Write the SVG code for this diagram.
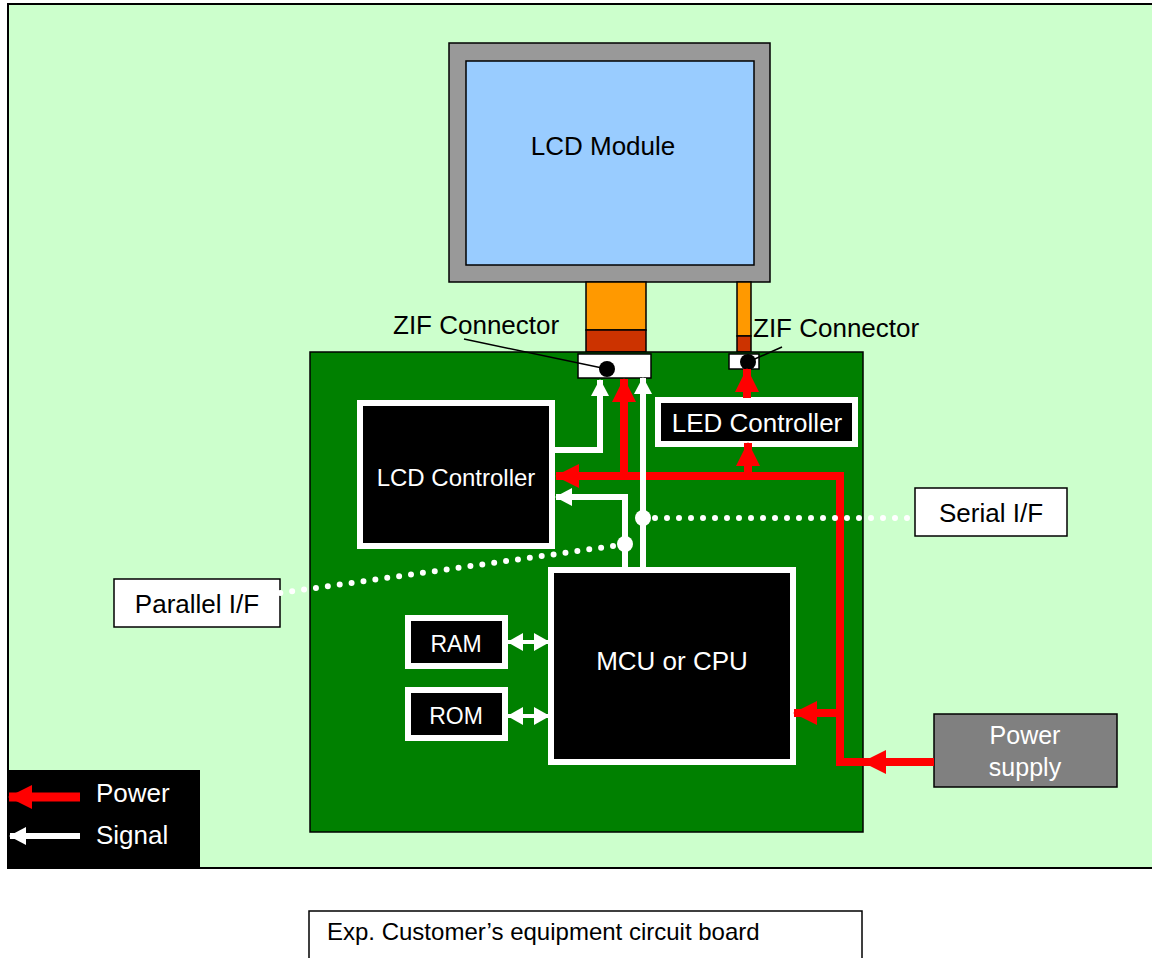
<svg xmlns="http://www.w3.org/2000/svg" width="1152" height="958" viewBox="0 0 1152 958">
<defs>
<style>
text{font-family:"Liberation Sans",Arial,sans-serif;}
.w{fill:#fff}
.k{fill:#000}
.blk{fill:#000;stroke:#fff;stroke-width:6}
.red{stroke:#f00;stroke-width:8;fill:none}
.sig{stroke:#fff;stroke-width:6;fill:none}
.dot{stroke:#fff;stroke-width:6;stroke-linecap:round;stroke-dasharray:0 12;fill:none}
.lbl{fill:#fff;stroke:#000;stroke-width:1.5}
</style>
<marker id="ra" markerUnits="userSpaceOnUse" markerWidth="24" markerHeight="24" refX="23" refY="12" orient="auto" viewBox="0 0 24 24"><path d="M0,0L24,12L0,24Z" fill="#f00"/></marker>
<marker id="wa" markerUnits="userSpaceOnUse" markerWidth="17" markerHeight="18" refX="16" refY="9" orient="auto" viewBox="0 0 17 18"><path d="M0,0L17,9L0,18Z" fill="#fff"/></marker>
<marker id="da" markerUnits="userSpaceOnUse" markerWidth="16" markerHeight="18" refX="15" refY="9" orient="auto-start-reverse" viewBox="0 0 16 18"><path d="M0,0L16,9L0,18Z" fill="#fff"/></marker>
</defs>
<rect x="0" y="0" width="1152" height="958" fill="#fff"/>
<rect id="outer-board" x="8" y="4" width="1150" height="864" fill="#CCFFCC" stroke="#000" stroke-width="2"/>

<g id="lcd-module">
<rect x="449" y="43" width="321" height="239" fill="#999" stroke="#000" stroke-width="1.5"/>
<rect x="466" y="61" width="288" height="204" fill="#99CCFF" stroke="#000" stroke-width="1.5"/>
<text x="603" y="155" font-size="26" text-anchor="middle" class="k">LCD Module</text>
</g>
<g id="flex-cables" stroke="#000" stroke-width="1.5">
<rect x="586" y="282" width="60" height="48" fill="#FF9900"/>
<rect x="586" y="330" width="60" height="22" fill="#CC3300"/>
<rect x="737" y="282" width="14" height="54" fill="#FF9900"/>
<rect x="737" y="336" width="14" height="16" fill="#CC3300"/>
</g>

<rect id="pcb" x="310" y="352" width="553" height="480" fill="#008000" stroke="#000" stroke-width="1.5"/>

<g id="zif-left">
<rect x="578" y="354" width="73" height="24" fill="#fff" stroke="#000" stroke-width="1.5"/>
<circle cx="607" cy="369" r="8" fill="#000"/>
</g>
<g id="zif-right">
<rect x="729" y="354" width="30" height="15" fill="#fff" stroke="#000" stroke-width="1.5"/>
<circle cx="748" cy="362" r="8" fill="#000"/>
</g>
<g id="zif-labels">
<text x="393" y="334" font-size="26" class="k">ZIF Connector</text>
<text x="753" y="337" font-size="26" class="k">ZIF Connector</text>
<line x1="464" y1="339" x2="607" y2="369" stroke="#000" stroke-width="1.5"/>
<line x1="748" y1="362" x2="782" y2="347" stroke="#000" stroke-width="1.5"/>
</g>

<g id="led-controller">
<rect x="658" y="400" width="197" height="44" class="blk"/>
<text x="757" y="432" font-size="26" text-anchor="middle" class="w">LED Controller</text>
</g>
<g id="lcd-controller">
<rect x="360" y="403" width="192" height="143" class="blk"/>
<text x="456" y="486" font-size="24" text-anchor="middle" class="w">LCD Controller</text>
</g>
<g id="mcu">
<rect x="551" y="570" width="242" height="192" class="blk"/>
<text x="672" y="670" font-size="26" text-anchor="middle" class="w">MCU or CPU</text>
</g>
<g id="ram">
<rect x="408" y="618" width="97" height="48" class="blk"/>
<text x="456" y="652" font-size="23" text-anchor="middle" class="w">RAM</text>
</g>
<g id="rom">
<rect x="408" y="690" width="97" height="48" class="blk"/>
<text x="456" y="724" font-size="23" text-anchor="middle" class="w">ROM</text>
</g>
<g id="power-supply">
<rect x="934" y="714" width="183" height="73" fill="#808080" stroke="#000" stroke-width="1.5"/>
<text x="1025" y="744" font-size="25" text-anchor="middle" class="w">Power</text>
<text x="1025" y="776" font-size="25" text-anchor="middle" class="w">supply</text>
</g>
<g id="serial-if">
<rect x="915" y="488" width="152" height="48" class="lbl"/>
<text x="991" y="522" font-size="26" text-anchor="middle" class="k">Serial I/F</text>
</g>
<g id="parallel-if">
<rect x="114" y="579" width="166" height="48" class="lbl"/>
<text x="197" y="613" font-size="26" text-anchor="middle" class="k">Parallel I/F</text>
</g>

<g id="connectors">
<!-- power -->
<line x1="934" y1="762" x2="863" y2="762" class="red" marker-end="url(#ra)"/>
<polyline points="866,762 840,762 840,476 556,476" class="red" stroke-linejoin="miter" marker-end="url(#ra)"/>
<line x1="840" y1="713" x2="794" y2="713" class="red" marker-end="url(#ra)"/>
<line x1="748" y1="476" x2="748" y2="443" class="red" marker-end="url(#ra)"/>
<line x1="624" y1="476" x2="624" y2="379" class="red" marker-end="url(#ra)"/>
<line x1="747" y1="398" x2="747" y2="369" class="red" marker-end="url(#ra)"/>
<!-- signal -->
<polyline points="555,450 600,450 600,380" class="sig" marker-end="url(#wa)"/>
<line x1="643" y1="569" x2="643" y2="378" class="sig" marker-end="url(#wa)"/>
<polyline points="625,569 625,497 556,497" class="sig" marker-end="url(#wa)"/>
<line x1="508" y1="642" x2="549" y2="642" stroke="#fff" stroke-width="4" marker-start="url(#da)" marker-end="url(#da)"/>
<line x1="508" y1="716" x2="549" y2="716" stroke="#fff" stroke-width="4" marker-start="url(#da)" marker-end="url(#da)"/>
<circle cx="643" cy="518" r="8" fill="#fff"/>
<circle cx="625" cy="544" r="8" fill="#fff"/>
<line x1="655" y1="518" x2="915" y2="518" class="dot"/>
<line x1="613" y1="546" x2="280" y2="593" class="dot"/>
</g>

<g id="legend">
<rect x="8" y="770" width="192" height="98" fill="#000"/>
<line x1="80" y1="797" x2="9" y2="797" stroke="#f00" stroke-width="9" marker-end="url(#ra)"/>
<line x1="80" y1="836" x2="10" y2="836" stroke="#fff" stroke-width="6" marker-end="url(#wa)"/>
<text x="96" y="802" font-size="26" class="w">Power</text>
<text x="96" y="844" font-size="26" class="w">Signal</text>
</g>

<g id="caption">
<rect x="309" y="911" width="553" height="60" fill="#fff" stroke="#000" stroke-width="1.5"/>
<text x="327" y="940" font-size="24" class="k">Exp. Customer’s equipment circuit board</text>
</g>
</svg>
